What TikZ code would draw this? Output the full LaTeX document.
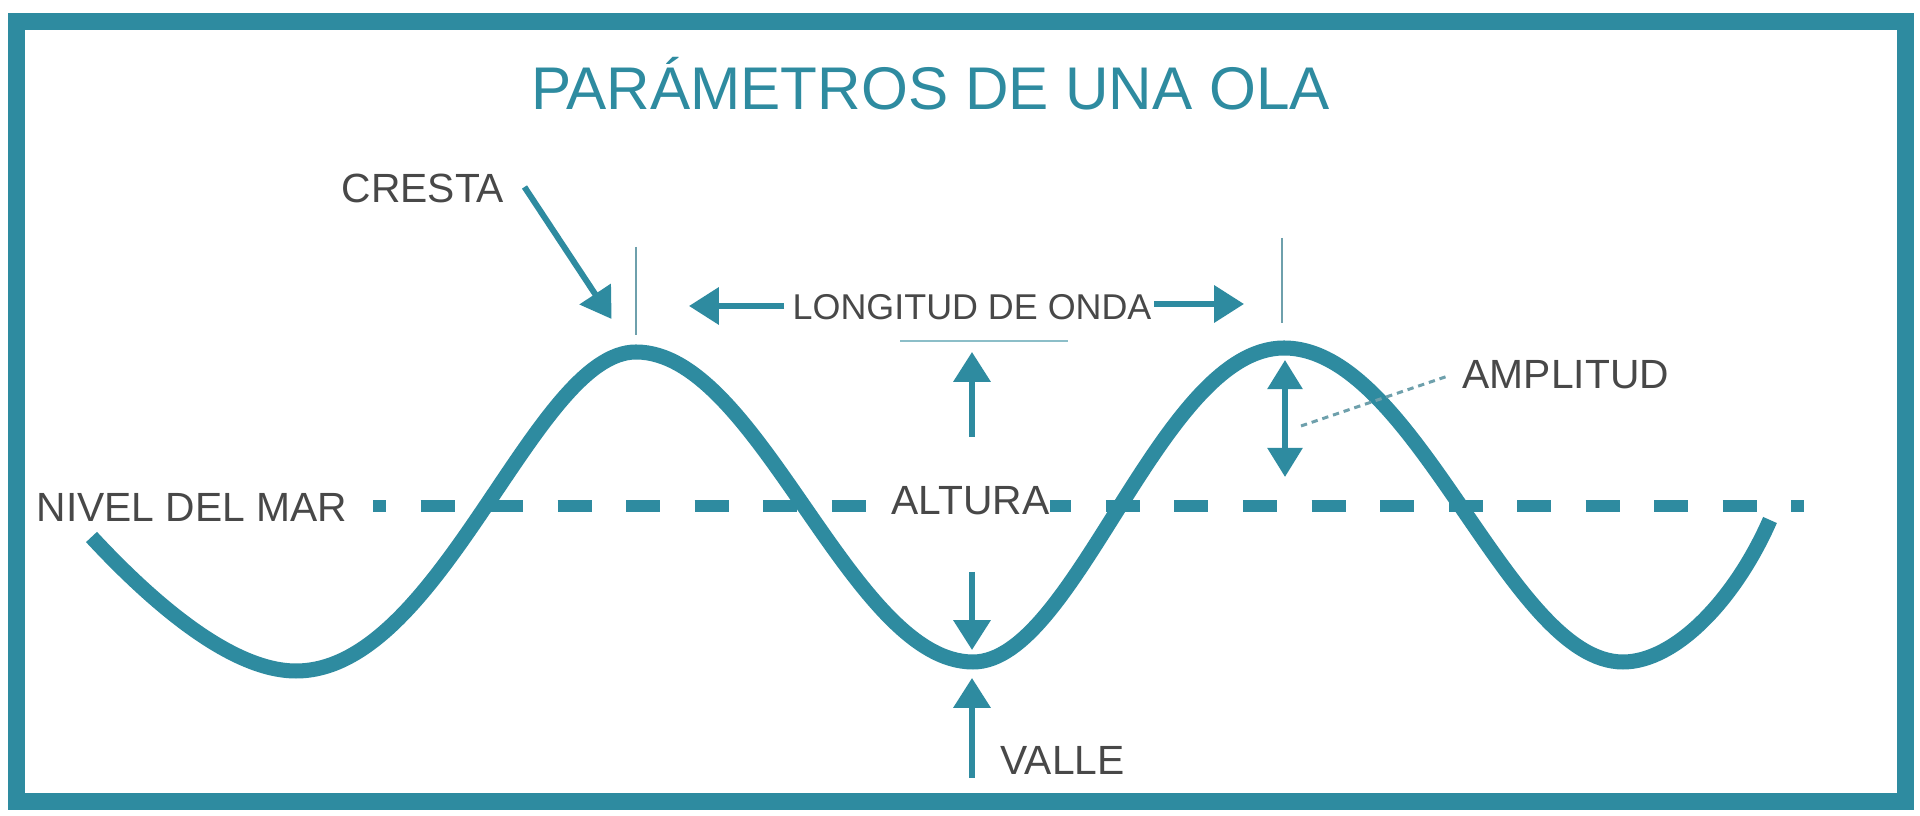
\documentclass[tikz,border=0pt]{standalone}
\usepackage{fontspec}
\setmainfont{Liberation Sans}
\usetikzlibrary{arrows.meta}
\definecolor{teal1}{RGB}{46,139,160}
\definecolor{txtgray}{RGB}{72,72,72}
\definecolor{tickgray}{RGB}{110,160,172}
\definecolor{lightteal}{RGB}{140,190,200}
\begin{document}
\begin{tikzpicture}[x=0.01cm,y=-0.01cm,
  lbl/.style={text=txtgray, inner sep=0pt, anchor=base west, font=\fontsize{11.6pt}{13pt}\selectfont},
  wave/.style={draw=teal1, line width=4.27pt},
  sealevel/.style={draw=teal1, line width=3.41pt, dash pattern=on 9.67pt off 9.82pt, dash phase=5.97pt},
  pointer/.style={draw=teal1, line width=1.7pt, -{Triangle[length=8.5pt,width=10.3pt]}},
  twoway/.style={draw=teal1, line width=1.7pt, {Triangle[length=8.3pt,width=9.7pt]}-{Triangle[length=8.3pt,width=9.7pt]}},
  tickline/.style={draw=tickgray, line width=0.45pt},
  leader/.style={draw=tickgray, line width=0.85pt, dash pattern=on 1.8pt off 1.4pt},
]
\useasboundingbox[fill=white] (0,0) rectangle (1920,816);
\draw[teal1, line width=4.84pt] (16.5,21.5) rectangle (1905.5,801.5);

% title
\node[text=teal1, inner sep=0pt, anchor=base, font=\fontsize{17.13pt}{20pt}\selectfont] (title) at (930.5,110) {PARÁMETROS DE UNA OLA};

% sea level
\coordinate (seaL) at (373,506);
\coordinate (seaR) at (1804,506);
\draw[sealevel] (seaL) -- (seaR);

% wave
\draw[wave] (91.5,537) .. controls (150,600) and (230,671) .. (296,671)
  .. controls (441,671) and (534,352) .. (636,352)
  .. controls (758.5,352) and (850.5,662) .. (973,662)
  .. controls (1075.5,662) and (1160.5,348) .. (1284,348)
  .. controls (1415.5,348) and (1508.5,662) .. (1623,662)
  .. controls (1675,662) and (1735,600) .. (1770,520);

% labels
\node[lbl] (nivel) at (36,522) {NIVEL DEL MAR};
\node[lbl] (cresta) at (341,203) {CRESTA};
\node[lbl, font=\fontsize{10.2pt}{12pt}\selectfont] (longitud) at (792,320) {LONGITUD DE ONDA};
\node[lbl, fill=white] (altura) at (891,515) {ALTURA};
\node[lbl] (amplitud) at (1462,389) {AMPLITUD};
\node[lbl] (valle) at (1000,775) {VALLE};

% crest ticks
\coordinate (tickAt) at (636,247); \coordinate (tickAb) at (636,335);
\coordinate (tickBt) at (1282,238); \coordinate (tickBb) at (1282,323);
\draw[tickline] (tickAt) -- (tickAb);
\draw[tickline] (tickBt) -- (tickBb);

% cresta pointer
\coordinate (crestaTail) at (524.5,187);
\coordinate (crestaTip) at (611.6,319);
\draw[pointer] (crestaTail) -- (crestaTip);

% wavelength arrows
\coordinate (lonLs) at (784,306); \coordinate (lonLt) at (689,306);
\coordinate (lonRs) at (1154,304); \coordinate (lonRt) at (1244,304);
\draw[pointer] (lonLs) -- (lonLt);
\draw[pointer] (lonRs) -- (lonRt);

% height
\coordinate (topL) at (900,341); \coordinate (topR) at (1068,341);
\draw[draw=lightteal, line width=0.6pt] (topL) -- (topR);
\coordinate (upS) at (972,437); \coordinate (upT) at (972,352);
\draw[pointer] (upS) -- (upT);
\coordinate (dnS) at (972,572); \coordinate (dnT) at (972,650);
\draw[pointer] (dnS) -- (dnT);

% valle
\coordinate (vaS) at (972,778); \coordinate (vaT) at (972,678);
\draw[pointer] (vaS) -- (vaT);

% amplitude
\coordinate (amT) at (1285,360); \coordinate (amB) at (1285,477);
\draw[twoway] (amT) -- (amB);
\coordinate (leadA) at (1301,426); \coordinate (leadB) at (1448,376);
\draw[leader] (leadA) -- (leadB);
\end{tikzpicture}
\end{document}
